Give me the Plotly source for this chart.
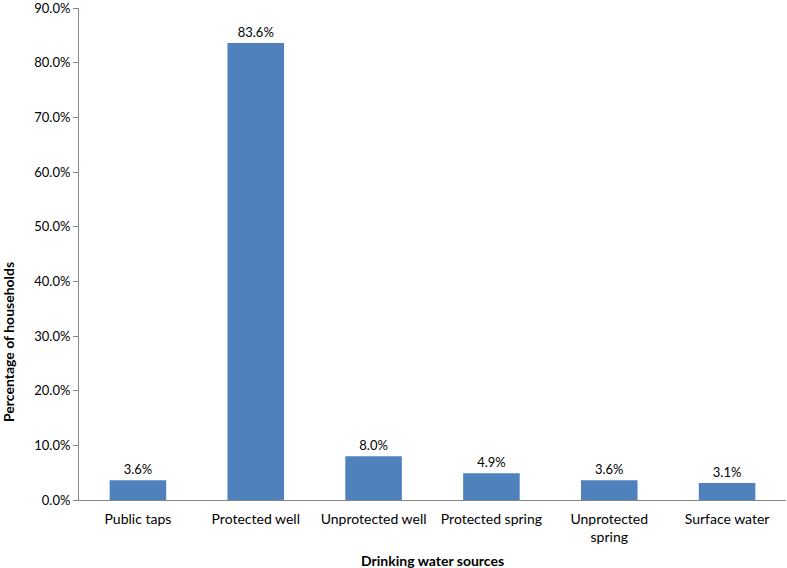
import plotly.graph_objects as go

categories = ["Public taps", "Protected well", "Unprotected well", "Protected spring", "Unprotected<br>spring", "Surface water"]
values = [3.6, 83.6, 8.0, 4.9, 3.6, 3.1]
labels = ["3.6%", "83.6%", "8.0%", "4.9%", "3.6%", "3.1%"]
y_ticks = [0, 10, 20, 30, 40, 50, 60, 70, 80, 90]
y_ticktext = ["0.0%", "10.0%", "20.0%", "30.0%", "40.0%", "50.0%", "60.0%", "70.0%", "80.0%", "90.0%"]

FONT = "Lato, 'Open Sans', sans-serif"
W, H = 787, 568
L, R, T, B = 79, 1, 8, 68

fig = go.Figure()
fig.add_trace(go.Bar(
    x=categories, y=values,
    marker=dict(color="#4F81BD", line=dict(width=0)),
    text=labels, textposition="outside", cliponaxis=False,
    textfont=dict(family=FONT, size=13, color="#000000"),
    width=0.48,
))

plot_h = H - T - B
plot_w = W - L - R

fig.update_layout(
    width=W, height=H,
    margin=dict(l=L, r=R, t=T, b=B, autoexpand=False),
    paper_bgcolor="white", plot_bgcolor="white",
    showlegend=False,
    font=dict(family=FONT, size=13, color="#000000"),
    xaxis=dict(
        showline=True, linecolor="#868686", linewidth=1,
        ticks="", showgrid=False, tickfont=dict(size=14),
        ticklabelstandoff=6,
    ),
    yaxis=dict(
        range=[0, 90.01], tickvals=y_ticks, ticktext=y_ticktext,
        showline=True, linecolor="#868686", linewidth=1,
        ticks="outside", ticklen=5, tickcolor="#868686",
        showgrid=False, zeroline=False, tickfont=dict(size=13),
        ticklabeloverflow="allow",
    ),
    annotations=[
        dict(text="<b>Drinking water sources</b>", x=0.5, xref="paper",
             y=(H - B - 560) / plot_h, yref="paper", yanchor="middle",
             showarrow=False, font=dict(size=14)),
        dict(text="<b>Percentage of households</b>", textangle=-90,
             x=(8 - L) / plot_w, xref="paper", xanchor="center",
             y=(H - B - 342) / plot_h, yref="paper", yanchor="middle",
             showarrow=False, font=dict(size=14)),
    ],
)

fig.write_html("out.html", config={"displayModeBar": False},
               post_script="document.body.style.margin='0';")
